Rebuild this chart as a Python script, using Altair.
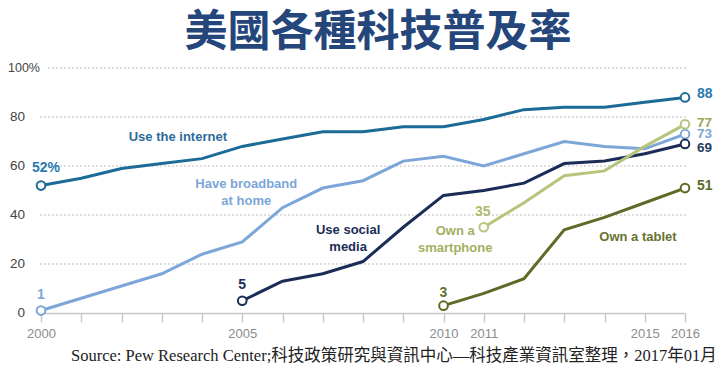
import altair as alt
import pandas as pd

# ---- data ----
title_text = "美國各種科技普及率"
source_text = "Source: Pew Research Center;科技政策研究與資訊中心—科技產業資訊室整理，2017年01月"

internet_years = list(range(2000, 2017))
internet_vals = [52, 55, 59, 61, 63, 68, 71, 74, 74, 76, 76, 79, 83, 84, 84, 86, 88]

broadband_years = list(range(2000, 2017))
broadband_vals = [1, 6, 11, 16, 24, 29, 43, 51, 54, 62, 64, 60, 65, 70, 68, 67, 73]

social_years = list(range(2005, 2017))
social_vals = [5, 13, 16, 21, 35, 48, 50, 53, 61, 62, 65, 69]

smartphone_years = list(range(2011, 2017))
smartphone_vals = [35, 45, 56, 58, 68, 77]

tablet_years = list(range(2010, 2017))
tablet_vals = [3, 8, 14, 34, 39, 45, 51]

series_names = ["internet", "broadband", "social", "smartphone", "tablet"]
series_colors = ["#1b6a97", "#7ca6d8", "#1b2d56", "#b6c47c", "#5c6b28"]

grid_values = [20, 40, 60, 80]
top_grid = [100]
y_label_values = [0, 20, 40, 60, 80]
y_top_label = ["100%"]
x_tick_years = list(range(2000, 2017))
x_label_years = [2000, 2005, 2010, 2011, 2015, 2016]

# series labels (text, year, value of first line) in data coordinates
series_label_text = ["Use the internet", "Have broadband\nat home", "Use social\nmedia",
                     "Own a\nsmartphone", "Own a tablet"]
series_label_year = [2003.4, 2005.1, 2007.63, 2010.29, 2014.83]
series_label_val = [71.8, 52.7, 33.9, 33.5, 31.0]
series_label_color = ["#2e6b99", "#7ca6d8", "#1b2d56", "#a3b060", "#66722f"]

# ---- build tables ----
rows = []
for name, ys_, vs in [("internet", internet_years, internet_vals),
                      ("broadband", broadband_years, broadband_vals),
                      ("social", social_years, social_vals),
                      ("smartphone", smartphone_years, smartphone_vals),
                      ("tablet", tablet_years, tablet_vals)]:
    for y, v in zip(ys_, vs):
        rows.append({"series": name, "year": y, "value": v})
df = pd.DataFrame(rows)

ends = []
for name in series_names:
    sub = df[df.series == name]
    ends.append(sub.iloc[0].to_dict())
    ends.append(sub.iloc[-1].to_dict())
ends_df = pd.DataFrame(ends)

W, H = 644, 245
xs = alt.Scale(domain=[2000, 2016], nice=False, zero=False)
ys = alt.Scale(domain=[0, 100], nice=False, zero=True)
color_scale = alt.Scale(domain=series_names, range=series_colors)

LABEL_FONT = "Liberation Sans, Arial"
NUM_FONT = "Liberation Sans, Arial"

# gridlines
grid = alt.Chart(pd.DataFrame({"v": grid_values})).mark_rule(
    color="#bdbdbd", strokeDash=[2, 2], strokeWidth=1.2
).encode(y=alt.Y("v:Q", scale=ys, axis=None), x=alt.value(-1), x2=alt.value(W + 2))

grid_top = alt.Chart(pd.DataFrame({"v": top_grid})).mark_rule(
    color="#bdbdbd", strokeDash=[2, 2], strokeWidth=1.2
).encode(y=alt.Y("v:Q", scale=ys, axis=None), x=alt.value(7), x2=alt.value(W + 2))

# y labels
ylab = alt.Chart(pd.DataFrame({"v": y_label_values})).mark_text(
    align="right", baseline="middle", fontSize=13.5, color="#444444", font=NUM_FONT
).encode(y=alt.Y("v:Q", scale=ys, axis=None), x=alt.value(-16), text=alt.Text("v:Q", format="d"))

ytop = alt.Chart(pd.DataFrame({"v": top_grid, "t": y_top_label})).mark_text(
    align="left", baseline="middle", fontSize=12.5, color="#444444", font=NUM_FONT
).encode(y=alt.Y("v:Q", scale=ys, axis=None), x=alt.value(-33), text="t:N")

# lines
lines = alt.Chart(df).mark_line(strokeWidth=3).encode(
    x=alt.X("year:Q", scale=xs,
            axis=alt.Axis(values=x_tick_years, format="d", grid=False, title=None,
                          domainColor="#c8c8c8", tickColor="#c8c8c8", tickSize=9,
                          domainWidth=1.5, tickWidth=1.5,
                          labelColor="#8c8c8c", labelFontSize=13, labelFont=NUM_FONT,
                          labelPadding=5, labelFlush=False,
                          labelExpr="indexof(" + str(x_label_years) + ", datum.value) >= 0 ? datum.label : ''")),
    y=alt.Y("value:Q", scale=ys, axis=None),
    color=alt.Color("series:N", scale=color_scale, legend=None),
    detail="series:N",
)

points = alt.Chart(ends_df).mark_point(
    shape="circle", filled=True, fill="white", size=75, strokeWidth=2, opacity=1
).encode(
    x=alt.X("year:Q", scale=xs),
    y=alt.Y("value:Q", scale=ys),
    stroke=alt.Stroke("series:N", scale=color_scale, legend=None),
)

layers = [grid, grid_top, ylab, ytop, lines, points]

# series labels
for t, yr, v, c in zip(series_label_text, series_label_year, series_label_val, series_label_color):
    layers.append(
        alt.Chart(pd.DataFrame({"t": [t], "year": [yr], "value": [v]})).mark_text(
            align="center", baseline="middle", fontSize=13, fontWeight="bold",
            color=c, font=LABEL_FONT, lineBreak="\n", lineHeight=17
        ).encode(x=alt.X("year:Q", scale=xs), y=alt.Y("value:Q", scale=ys), text="t:N")
    )

# value labels at series start / end
def value_label(series, which, text, color, dx, dy, align="center", size=14):
    sub = df[df.series == series]
    r = sub.iloc[0] if which == "first" else sub.iloc[-1]
    d = pd.DataFrame({"t": [text], "year": [r["year"]], "value": [r["value"]]})
    return alt.Chart(d).mark_text(
        align=align, baseline="middle", fontSize=size, fontWeight="bold",
        color=color, font=NUM_FONT, dx=dx, dy=dy
    ).encode(x=alt.X("year:Q", scale=xs), y=alt.Y("value:Q", scale=ys), text="t:N")

layers += [
    value_label("internet", "first", str(internet_vals[0]) + "%", "#2a7ab0", 5, -18),
    value_label("broadband", "first", str(broadband_vals[0]), "#7ca6d8", 0, -16),
    value_label("social", "first", str(social_vals[0]), "#1b2d56", 0, -16),
    value_label("tablet", "first", str(tablet_vals[0]), "#66722f", 0, -13),
    value_label("smartphone", "first", str(smartphone_vals[0]), "#b0bb70", -1, -15),
    value_label("internet", "last", str(internet_vals[-1]), "#2a7ab0", 12, -3, "left"),
    value_label("smartphone", "last", str(smartphone_vals[-1]), "#9aa65a", 12, -1, "left", 13.5),
    value_label("broadband", "last", str(broadband_vals[-1]), "#7ca6d8", 12, 0, "left", 13.5),
    value_label("social", "last", str(social_vals[-1]), "#2b3a60", 12, 4, "left", 13.5),
    value_label("tablet", "last", str(tablet_vals[-1]), "#5c6b28", 12, -2, "left"),
]

title = alt.Chart(pd.DataFrame({"t": [title_text]})).mark_text(
    align="center", baseline="middle", fontSize=43, fontWeight="bold",
    color="#24467a", font="Noto Sans CJK TC"
).encode(x=alt.value(337), y=alt.value(-35), text="t:N")

source = alt.Chart(pd.DataFrame({"t": [source_text]})).mark_text(
    align="left", baseline="alphabetic", fontSize=16.5, color="#222222",
    font="Liberation Serif, Noto Sans CJK TC"
).encode(x=alt.value(30), y=alt.value(293), text="t:N")

layers += [title, source]

chart = alt.layer(*layers).properties(
    width=W, height=H,
    padding={"left": 33, "top": 60, "right": 34, "bottom": 51},
    autosize=alt.AutoSizeParams(type="none"),
    background="white",
).configure_view(stroke=None)

chart.save("out.html", embed_options={"renderer": "svg", "actions": False})
